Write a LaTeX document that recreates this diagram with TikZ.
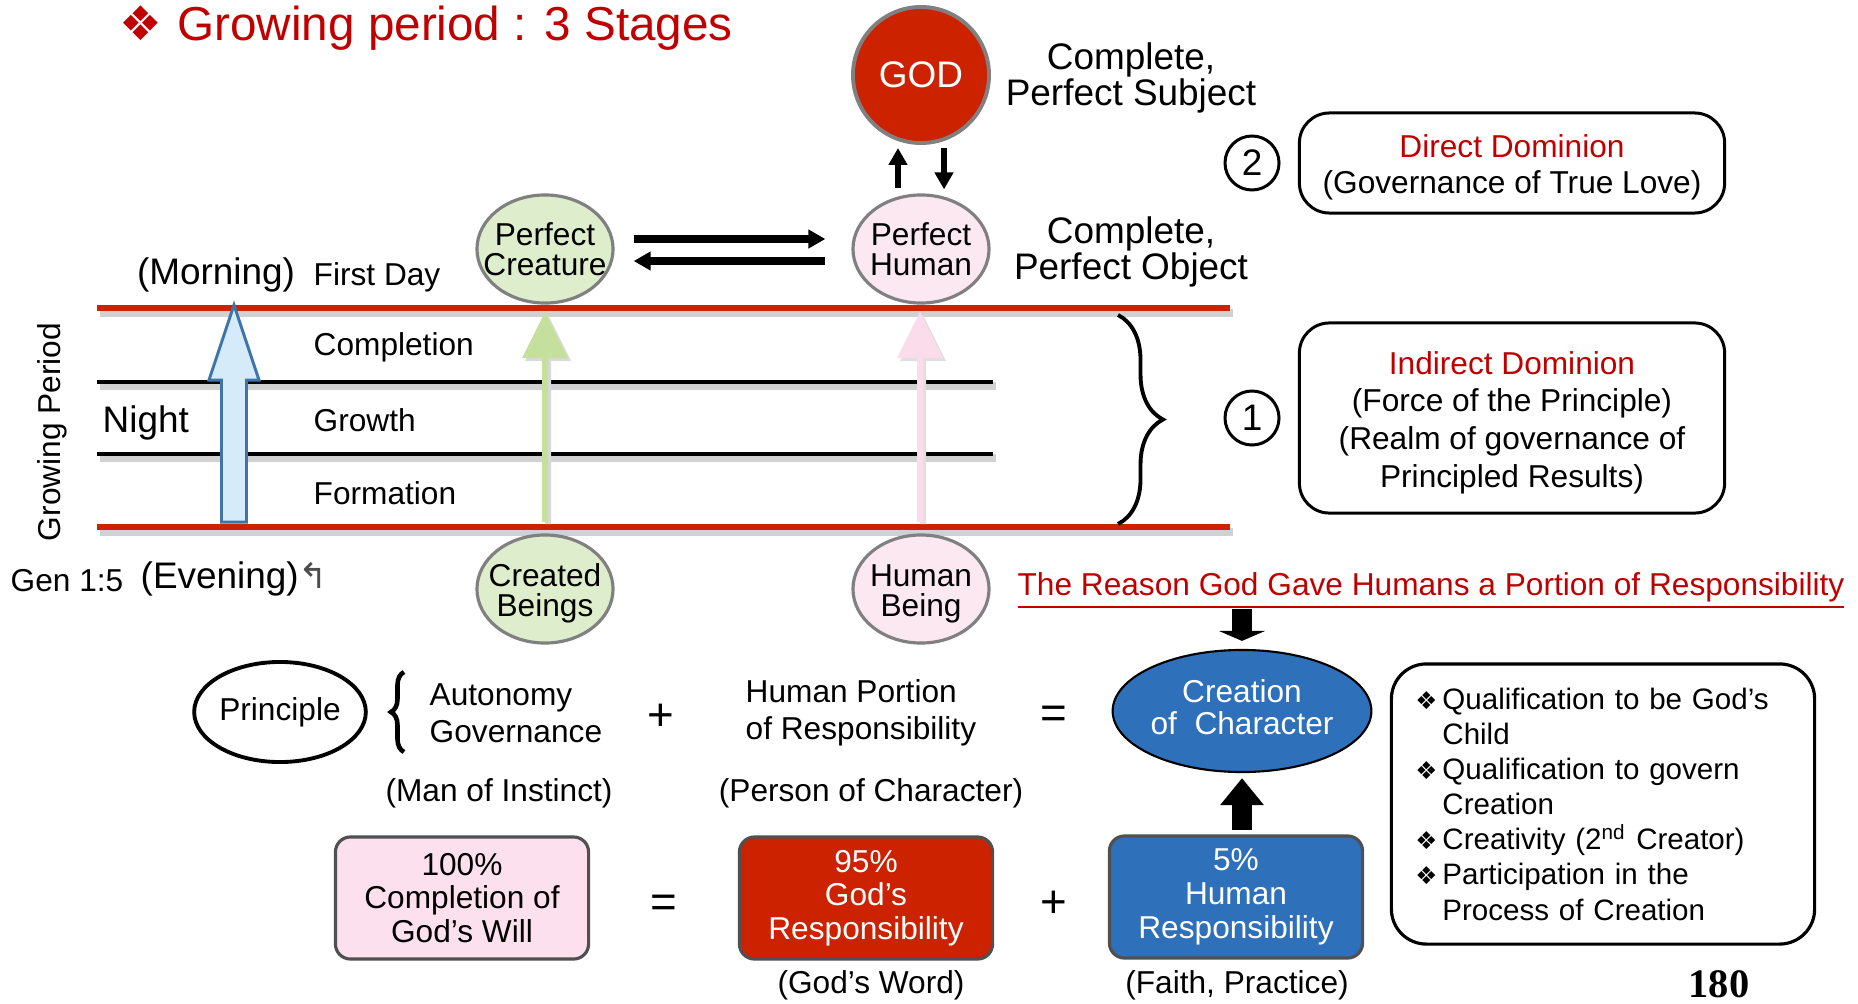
\documentclass[tikz,border=0pt]{standalone}
\usepackage{fontspec}
\setmainfont{Liberation Sans}
\newfontfamily\dingfont{DejaVu Sans}
\newfontfamily\pagenumfont{Liberation Serif}
\usetikzlibrary{positioning, shapes.geometric, arrows.meta, decorations.pathreplacing}
\definecolor{titlered}{RGB}{192,0,0}
\definecolor{barred}{RGB}{204,34,0}
\definecolor{creaturegreen}{RGB}{222,237,203}
\definecolor{arrowgreen}{RGB}{196,224,156}
\definecolor{humanpink}{RGB}{252,232,241}
\definecolor{arrowpink}{RGB}{251,220,235}
\definecolor{willpink}{RGB}{253,224,238}
\definecolor{charblue}{RGB}{46,112,186}
\definecolor{skyblue}{RGB}{214,235,250}
\definecolor{steelblue}{RGB}{62,116,170}
\definecolor{rimgray}{RGB}{128,128,128}
\definecolor{boxgray}{RGB}{80,80,80}
\tikzset{
    title text/.style={inner sep=0pt, text=titlered, font={\fontsize{13.55pt}{14pt}\selectfont}},
    god node/.style={circle, draw=rimgray, line width=1.1pt, fill=barred, minimum size=1.36cm, inner sep=0pt, text=white, font={\fontsize{10.5pt}{10pt}\selectfont}},
    being node/.style={ellipse, draw=rimgray, line width=0.9pt, minimum width=1.36cm, minimum height=1.08cm, inner sep=0pt},
    being text/.style={inner sep=0pt, align=center, font={\fontsize{9pt}{8.5pt}\selectfont}},
    big text/.style={inner sep=0pt, align=center, font={\fontsize{10.5pt}{10pt}\selectfont}},
    small text/.style={inner sep=0pt, align=center, font={\fontsize{9pt}{10.5pt}\selectfont}},
    sign text/.style={inner sep=0pt, font={\fontsize{13pt}{13pt}\selectfont}},
    stage line/.style={line width=1.4pt},
    period line/.style={draw=barred, line width=1.7pt},
    shade line/.style={draw=black!18, line width=2pt},
    num circle/.style={circle, draw, line width=0.85pt, minimum size=0.54cm, inner sep=0pt, font={\fontsize{10.5pt}{10pt}\selectfont}},
    dominion box/.style={rectangle, rounded corners=0.3cm, draw, line width=0.85pt, minimum width=4.25cm, align=center},
    result box/.style={rectangle, rounded corners=0.15cm, draw=boxgray, line width=0.9pt, minimum width=2.53cm, minimum height=1.22cm, inner sep=0pt, align=center, font={\fontsize{9pt}{9.6pt}\selectfont}},
    thin arrow/.style={line width=1.7pt, -{Triangle[length=0.17cm, width=0.18cm]}},
    fat arrow/.style={line width=0.2cm, -{Triangle[length=0.1cm, width=0.46cm]}},
}
\newcommand{\riserarrow}[7]{
    \filldraw[#1] (#2-#6,#3) -- (#2-#6,#5) -- (#2-#7,#5) -- (#2,#4)
        -- (#2+#7,#5) -- (#2+#6,#5) -- (#2+#6,#3) -- cycle;
}
\newcommand{\listmark}{\makebox[0.27cm][l]{\dingfont\fontsize{7pt}{7pt}\selectfont ❖}}

\begin{document}
\begin{tikzpicture}[x=0.01cm, y=-0.01cm]
    \useasboundingbox (0,0) rectangle (1858,1003);
    \node[title text, anchor=west] (title) at (119,28) {{\dingfont ❖}\hspace{0.15cm}Growing period : 3 Stages};

    \node[god node] (god) at (921,75) {GOD};
    \node[big text] (subject) at (1131,78) {Complete,\\Perfect Subject};
    \node[being node, fill=creaturegreen] (perfcreature) at (545,249) {};
    \node[being text] (perfcreaturetext) at (perfcreature) {Perfect\\Creature};
    \node[being node, fill=humanpink] (perfhuman) at (921,249) {};
    \node[being text] (perfhumantext) at (perfhuman) {Perfect\\Human};
    \node[big text] (object) at (1131,252) {Complete,\\Perfect Object};
    \node[big text] (morning) at (216,275) {(Morning)};
    \node[small text, anchor=west] (firstday) at (313,277) {First Day};

    \draw[thin arrow, shorten <=0.5mm, shorten >=0.3mm] ([xshift=-2.3mm]perfhuman.north) -- ([xshift=-2.3mm]god.south);
    \draw[thin arrow, shorten <=0.3mm, shorten >=0.4mm] ([xshift=2.3mm]god.south) -- ([xshift=2.3mm]perfhuman.north);
    \draw[thin arrow, line width=2pt, shorten <=1.9mm, shorten >=2.6mm] ([yshift=1mm]perfcreature.east) -- ([yshift=1mm]perfhuman.west);
    \draw[thin arrow, line width=2pt, shorten <=2.6mm, shorten >=1.9mm] ([yshift=-1.2mm]perfhuman.west) -- ([yshift=-1.2mm]perfcreature.east);

    \draw[shade line] (100,313) -- (1233,313);
    \draw[shade line] (100,532) -- (1233,532);
    \draw[shade line] (100,386) -- (996,386);
    \draw[shade line] (100,458) -- (996,458);
    \draw[period line] (97,308) -- (1230,308);
    \draw[period line] (97,527) -- (1230,527);
    \draw[stage line] (97,382) -- (993,382);
    \draw[stage line] (97,454) -- (993,454);

    \node[small text, anchor=west] (completion) at (313,347) {Completion};
    \node[small text, anchor=west] (growth) at (313,420) {Growth};
    \node[small text, anchor=west] (formation) at (313,493) {Formation};
    \node[big text, anchor=west] (night) at (102,423) {Night};
    \node[small text, rotate=90] (period) at (52,432) {Growing Period};

    \riserarrow{fill=skyblue, draw=steelblue, line width=0.85pt}{234}{522}{305}{380}{12.5}{25}
    \riserarrow{fill=black!15, draw=none}{548}{524}{315}{361}{3}{23}
    \riserarrow{fill=arrowgreen, draw=none}{545}{522}{312}{358}{3}{23}
    \riserarrow{fill=black!12, draw=none}{923}{524}{315}{361}{3}{23}
    \riserarrow{fill=arrowpink, draw=none}{920}{522}{312}{358}{3}{23}

    \draw[line width=1.1pt, decorate, decoration={brace, amplitude=0.45cm}] (1118,315) -- (1118,524);
    \node[num circle] (two) at (1252,163) {2};
    \node[num circle] (one) at (1252,418) {1};
    \node[dominion box, minimum height=1.0cm, font={\fontsize{9pt}{10.2pt}\selectfont}] (direct) at (1512,163)
        {\rule{0pt}{0.31cm}\textcolor{titlered}{Direct Dominion}\\(Governance of True Love)};
    \node[dominion box, minimum height=1.9cm, font={\fontsize{9pt}{10.7pt}\selectfont}] (indirect) at (1512,418)
        {\rule{0pt}{0.32cm}\textcolor{titlered}{Indirect Dominion}\\(Force of the Principle)\\(Realm of governance of\\Principled Results)};

    \node[being node, fill=creaturegreen] (created) at (545,589) {};
    \node[being text] (createdtext) at (545,593) {Created\\Beings};
    \node[being node, fill=humanpink] (humanbeing) at (921,589) {};
    \node[being text] (humanbeingtext) at (921,594) {Human\\Being};
    \node[small text, anchor=west] (gen) at (10,581) {Gen 1:5};
    \node[big text, anchor=west] (evening) at (140,579) {(Evening){\dingfont\fontsize{10pt}{10pt}\selectfont\color{black!70}↰}};
    \node[small text, text=titlered] (reason) at (1431,591) {\underline{The Reason God Gave Humans a Portion of Responsibility}};

    \node[ellipse, draw, line width=1.1pt, minimum width=1.68cm, minimum height=1.0cm, inner sep=0pt, font={\fontsize{9pt}{10pt}\selectfont}] (principle) at (280,712) {Principle};
    \draw[line width=1.3pt, decorate, decoration={brace, amplitude=0.13cm}] (404,752) -- (404,672);
    \node[small text, anchor=west, align=left] (autonomy) at (429,713) {Autonomy\\Governance};
    \node[sign text] (plusa) at (661,717) {+};
    \node[small text, anchor=west, align=left] (portion) at (745,713) {Human Portion\\of Responsibility};
    \node[sign text] (equala) at (1054,717) {=};
    \node[ellipse, draw, line width=0.6pt, fill=charblue, text=white, minimum width=2.56cm, minimum height=1.22cm, inner sep=0pt, align=center, font={\fontsize{9pt}{9.1pt}\selectfont}] (creation) at (1242,711) {Creation\\of\ \ Character\rule[-0.08cm]{0pt}{0pt}};
    \node[small text] (instinct) at (499,793) {(Man of Instinct)};
    \node[small text] (character) at (871,793) {(Person of Character)};
    \draw[fat arrow] ([yshift=4mm]creation.north) -- ([yshift=0.8mm]creation.north);

    \node[result box, fill=willpink] (willbox) at (462,898) {100\%\\Completion of\\God’s Will};
    \node[sign text] (equalb) at (664,906) {=};
    \node[result box, fill=barred, text=white] (godbox) at (866,898) {95\%\\God’s\\Responsibility};
    \node[sign text] (plusb) at (1054,904) {+};
    \node[result box, fill=charblue, text=white] (fivebox) at (1236,897) {5\%\\Human\\Responsibility};
    \draw[line width=0.2cm, -{Triangle[length=0.27cm, width=0.42cm]}, shorten <=0.4mm, shorten >=0.5mm] (creation.south |- fivebox.north) -- (creation.south);
    \node[small text] (word) at (871,985) {(God’s Word)};
    \node[small text] (faith) at (1237,985) {(Faith, Practice)};
    \node[inner sep=0pt, font={\pagenumfont\bfseries\fontsize{11.5pt}{12pt}\selectfont}] (pagenum) at (1719,984) {180};

    \node[rectangle, rounded corners=0.35cm, draw, line width=0.9pt, text width=3.75cm, inner xsep=0.24cm, minimum height=2.8cm, align=left, font={\fontsize{8.4pt}{10pt}\selectfont}] (qualify) at (1603,804)
        {\listmark Qualification to be God’s\\\hspace*{0.27cm}Child\\\listmark Qualification to govern\\\hspace*{0.27cm}Creation\\\listmark Creativity (2\textsuperscript{nd} Creator)\\\listmark Participation in the\\\hspace*{0.27cm}Process of Creation};
\end{tikzpicture}
\end{document}
